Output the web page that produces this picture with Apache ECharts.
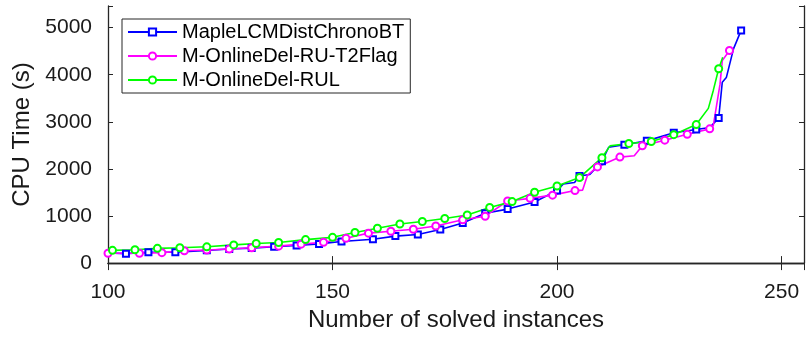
<!DOCTYPE html>
<html>
<head>
<meta charset="utf-8">
<script src="https://cdn.jsdelivr.net/npm/echarts@6/dist/echarts.min.js"></script>
<style>
  * { margin: 0; padding: 0; }
  body { background: #ffffff; }
  #chart { width: 807px; height: 337px; }
</style>
</head>
<body>
<div id="chart"></div>
<script>
// series names
var seriesNames = ['MapleLCMDistChronoBT', 'M-OnlineDel-RU-T2Flag', 'M-OnlineDel-RUL'];

// points that carry a marker
var blueMarkX = [104, 109, 115, 122, 127, 132, 137, 142, 147, 152, 159, 164, 169, 174, 179, 184, 189, 195, 200, 205, 210, 215, 220, 226, 231, 236, 241];
var blueMarkY = [201, 230, 230, 271, 298, 319, 346, 375, 408, 458, 505, 573, 609, 712, 851, 1058, 1147, 1298, 1540, 1851, 2161, 2513, 2596, 2768, 2838, 3079, 4942];
// other visible points on the line (no marker)
var blueBendX = [100, 201.4, 203.9, 207.3, 211.5, 234, 236.8, 237.7, 239.3];
var blueBendY = [215, 1680, 1710, 1880, 2460, 2880, 3840, 3940, 4550];

var magentaMarkX = [100, 107, 112, 117, 122, 127, 132, 138, 143, 148, 153, 158, 163, 168, 173, 179, 184, 189, 194, 199, 204, 209, 214, 219, 224, 229, 234, 238.4];
var magentaMarkY = [209, 209, 222, 263, 277, 298, 325, 360, 402, 443, 526, 636, 677, 718, 789, 919, 996, 1319, 1375, 1443, 1540, 2043, 2251, 2493, 2611, 2735, 2851, 4516];
var magentaBendX = [205.7, 206.8, 217.2, 234.8, 236.3, 236.8];
var magentaBendY = [1550, 1870, 2280, 2920, 3800, 4300];

var greenMarkX = [101, 106, 111, 116, 122, 128, 133, 138, 144, 150, 155, 160, 165, 170, 175, 180, 185, 190, 195, 200, 205, 210, 216, 221, 226, 231, 236];
var greenMarkY = [271, 284, 313, 325, 346, 387, 416, 437, 499, 547, 650, 739, 830, 884, 946, 1023, 1182, 1306, 1505, 1638, 1816, 2238, 2540, 2582, 2727, 2942, 4128];
var greenBendX = [100, 211.8, 233.7, 234.8, 236.9];
var greenBendY = [265, 2490, 3286, 3667, 4371];

// axis ticks
var xTicks = [100, 150, 200, 250];
var yTicks = [0, 1000, 2000, 3000, 4000, 5000];

var AXIS = '#262626';
var FONT = 'Liberation Sans, Arial, Helvetica, sans-serif';

// merge marker points and bend points, only marker points get a symbol
function buildData(mx, my, bx, by) {
  var pts = [];
  for (var i = 0; i < mx.length; i++) pts.push({ value: [mx[i], my[i]], mark: true });
  for (var j = 0; j < bx.length; j++) pts.push({ value: [bx[j], by[j]], mark: false });
  pts.sort(function (a, b) { return a.value[0] - b.value[0]; });
  return pts.map(function (p) {
    return p.mark ? { value: p.value } : { value: p.value, symbol: 'none' };
  });
}

function makeSeries(name, color, symbol, symbolSize, data) {
  return {
    name: name,
    type: 'line',
    data: data,
    symbol: symbol,
    symbolSize: symbolSize,
    showAllSymbol: true,
    lineStyle: { color: color, width: 1.6 },
    itemStyle: { color: color, borderColor: color, borderWidth: 1.3 },
    emphasis: { disabled: true },
    animation: false
  };
}

var chart = echarts.init(document.getElementById('chart'), null, { renderer: 'canvas' });

var axisCommon = {
  type: 'value',
  axisLine: { show: true, lineStyle: { color: AXIS, width: 1.3 } },
  splitLine: { show: false },
  axisTick: { show: true, inside: true, lineStyle: { color: AXIS, width: 1 } }
};

var option = {
  backgroundColor: '#ffffff',
  animation: false,
  grid: { left: 108, top: 6, bottom: 67, right: -4 },
  legend: {
    orient: 'vertical',
    left: 122,
    top: 19,
    padding: [3, 6, 3, 5],
    itemGap: 4,
    itemWidth: 49,
    itemHeight: 9,
    borderColor: AXIS,
    borderWidth: 1,
    borderRadius: 0,
    backgroundColor: '#ffffff',
    textStyle: { fontFamily: FONT, fontSize: 20, color: '#000000', lineHeight: 20 },
    data: seriesNames
  },
  xAxis: [
    Object.assign({}, axisCommon, {
      min: 100, max: 255, interval: 50,
      position: 'bottom',
      axisTick: { show: true, inside: true, length: 7, lineStyle: { color: AXIS, width: 1 } },
      axisLabel: {
        fontFamily: FONT, fontSize: 21, color: '#1a1a1a', margin: 19,
        formatter: function (v) { return xTicks.indexOf(v) >= 0 ? String(v) : ''; }
      },
      name: 'Number of solved instances',
      nameLocation: 'middle',
      nameGap: 43,
      nameTextStyle: { fontFamily: FONT, fontSize: 24, color: '#1a1a1a' }
    }),
    Object.assign({}, axisCommon, {
      min: 100, max: 255, interval: 50,
      position: 'top',
      axisTick: { show: true, inside: true, length: 7, lineStyle: { color: AXIS, width: 1 } },
      axisLabel: { show: false }
    })
  ],
  yAxis: [
    Object.assign({}, axisCommon, {
      min: 0, max: 5460, interval: 1000,
      position: 'left',
      axisTick: { show: true, inside: true, length: 5, lineStyle: { color: AXIS, width: 1 } },
      axisLabel: {
        fontFamily: FONT, fontSize: 21, color: '#1a1a1a', margin: 16,
        formatter: function (v) { return yTicks.indexOf(v) >= 0 ? String(v) : ''; }
      },
      name: 'CPU Time (s)',
      nameLocation: 'middle',
      nameGap: 64,
      nameTextStyle: { fontFamily: FONT, fontSize: 24, color: '#1a1a1a' }
    }),
    Object.assign({}, axisCommon, {
      min: 0, max: 5460, interval: 1000,
      position: 'right',
      axisTick: { show: true, inside: true, length: 5, lineStyle: { color: AXIS, width: 1 } },
      axisLabel: { show: false }
    })
  ],
  series: [
    makeSeries(seriesNames[0], '#0000ff', 'emptyRect', 6, buildData(blueMarkX, blueMarkY, blueBendX, blueBendY)),
    makeSeries(seriesNames[1], '#ff00ff', 'emptyCircle', 7, buildData(magentaMarkX, magentaMarkY, magentaBendX, magentaBendY)),
    makeSeries(seriesNames[2], '#00ff00', 'emptyCircle', 7, buildData(greenMarkX, greenMarkY, greenBendX, greenBendY))
  ]
};

chart.setOption(option);
</script>
</body>
</html>
